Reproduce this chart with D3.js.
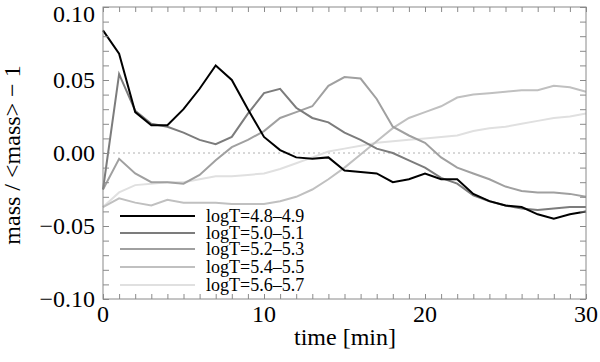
<!DOCTYPE html>
<html>
<head>
<meta charset="utf-8">
<script src="https://cdn.jsdelivr.net/npm/d3@7"></script>
<style>
  body { margin: 0; background: #fff; }
  text { font-family: "Liberation Serif", "Times New Roman", serif; }
</style>
</head>
<body>
<svg id="chart" width="600" height="362"></svg>
<script>
/* global d3 */

let times = d3.range(0, 31)

let logT48 = [0.084, 0.068, 0.028, 0.019, 0.019, 0.030, 0.044, 0.060, 0.050, 0.030, 0.011,
  0.002, -0.003, -0.004, -0.003, -0.012, -0.013, -0.014, -0.020, -0.018, -0.014,
  -0.018, -0.018, -0.028, -0.033, -0.036, -0.037, -0.042, -0.045, -0.042, -0.040]
let logT50 = [-0.025, 0.054, 0.029, 0.020, 0.018, 0.014, 0.009, 0.006, 0.011, 0.027, 0.041,
  0.044, 0.031, 0.024, 0.021, 0.014, 0.009, 0.003, 0.000, -0.005, -0.010,
  -0.017, -0.021, -0.029, -0.033, -0.036, -0.038, -0.039, -0.038, -0.037, -0.037]
let logT52 = [-0.025, -0.004, -0.014, -0.020, -0.020, -0.021, -0.015, -0.005, 0.004, 0.009, 0.015,
  0.024, 0.028, 0.032, 0.046, 0.052, 0.051, 0.037, 0.018, 0.012, 0.007,
  -0.003, -0.010, -0.014, -0.018, -0.023, -0.026, -0.027, -0.027, -0.028, -0.030]
let logT54 = [-0.037, -0.031, -0.034, -0.036, -0.032, -0.034, -0.034, -0.034, -0.035, -0.035, -0.035,
  -0.033, -0.030, -0.025, -0.018, -0.010, -0.001, 0.008, 0.017, 0.024, 0.028,
  0.032, 0.038, 0.040, 0.041, 0.042, 0.043, 0.043, 0.046, 0.045, 0.042]
let logT56 = [-0.037, -0.027, -0.022, -0.021, -0.020, -0.020, -0.018, -0.016, -0.016, -0.015, -0.014,
  -0.011, -0.007, -0.003, 0.001, 0.003, 0.005, 0.007, 0.008, 0.009, 0.010,
  0.011, 0.012, 0.015, 0.017, 0.018, 0.020, 0.022, 0.024, 0.025, 0.027]

let seriesNames = ['logT=4.8\u20134.9', 'logT=5.0\u20135.1', 'logT=5.2\u20135.3', 'logT=5.4\u20135.5', 'logT=5.6\u20135.7']
let seriesValues = [logT48, logT50, logT52, logT54, logT56]
let seriesColors = ['#000000', '#7c7c7c', '#a0a0a0', '#c0c0c0', '#e0e0e0']

let xTickLabels = [0, 10, 20, 30]
let yTickLabels = [-0.10, -0.05, 0.00, 0.05, 0.10]

let svg = d3.select('#chart')
let plotLeft = 103, plotRight = 586, plotTop = 7, plotBottom = 299

let x = d3.scaleLinear().domain([0, 30]).range([plotLeft, plotRight])
let y = d3.scaleLinear().domain([-0.1, 0.1]).range([plotBottom, plotTop])

// zero line
svg.append('line')
  .attr('x1', plotLeft).attr('x2', plotRight)
  .attr('y1', y(0)).attr('y2', y(0))
  .attr('stroke', '#b0b0b0')
  .attr('stroke-width', 1)
  .attr('stroke-dasharray', '2,3')

// curves, drawn light first so black stays on top
let line = d3.line()
  .x((d, i) => x(times[i]))
  .y((d) => y(d))

for (let j = seriesValues.length - 1; j >= 0; j -= 1) {
  svg.append('path')
    .datum(seriesValues[j])
    .attr('d', line)
    .attr('fill', 'none')
    .attr('stroke', seriesColors[j])
    .attr('stroke-width', 2)
}

// ticks on all four sides, inward
let tickColor = '#8a8a8a'
let xMinor = d3.range(0, 31, 1)
let yMinor = d3.range(-10, 11).map((k) => k / 100)

let axes = [
  d3.axisBottom(x).tickValues(xMinor).tickSize(-5).tickFormat(''),
  d3.axisTop(x).tickValues(xMinor).tickSize(-5).tickFormat(''),
  d3.axisLeft(y).tickValues(yMinor).tickSize(-6).tickFormat(''),
  d3.axisRight(y).tickValues(yMinor).tickSize(-6).tickFormat('')
]
let shifts = [[0, plotBottom], [0, plotTop], [plotLeft, 0], [plotRight, 0]]

axes.forEach((ax, k) => {
  let g = svg.append('g')
    .attr('transform', `translate(${shifts[k][0]},${shifts[k][1]})`)
    .call(ax)
  g.select('.domain').remove()
  g.selectAll('line').attr('stroke', tickColor)
})

svg.append('rect')
  .attr('x', plotLeft).attr('y', plotTop)
  .attr('width', plotRight - plotLeft).attr('height', plotBottom - plotTop)
  .attr('fill', 'none')
  .attr('stroke', tickColor)
  .attr('stroke-width', 1)

// tick labels
svg.selectAll('.xlab').data(xTickLabels).enter().append('text')
  .attr('class', 'xlab')
  .attr('x', (d) => x(d))
  .attr('y', 322)
  .attr('text-anchor', 'middle')
  .attr('font-size', 24)
  .text((d) => d)

svg.selectAll('.ylab').data(yTickLabels).enter().append('text')
  .attr('class', 'ylab')
  .attr('x', 95)
  .attr('y', (d) => Math.max(y(d), 14) + 8)
  .attr('text-anchor', 'end')
  .attr('font-size', 24)
  .text((d) => d3.format('.2f')(d).replace('-', '\u2212'))

// axis titles
svg.append('text')
  .attr('x', 345)
  .attr('y', 345)
  .attr('text-anchor', 'middle')
  .attr('font-size', 24)
  .text('time [min]')

svg.append('text')
  .attr('transform', 'translate(20,155) rotate(-90)')
  .attr('text-anchor', 'middle')
  .attr('font-size', 24)
  .text('mass / <mass> \u2212 1')

// legend
let legendY = [216, 233, 249, 267, 285]
seriesNames.forEach((name, j) => {
  svg.append('line')
    .attr('x1', 120).attr('x2', 195)
    .attr('y1', legendY[j]).attr('y2', legendY[j])
    .attr('stroke', seriesColors[j])
    .attr('stroke-width', 2)
  svg.append('text')
    .attr('x', 206)
    .attr('y', legendY[j] + 6)
    .attr('font-size', 18)
    .text(name)
})
</script>
</body>
</html>
